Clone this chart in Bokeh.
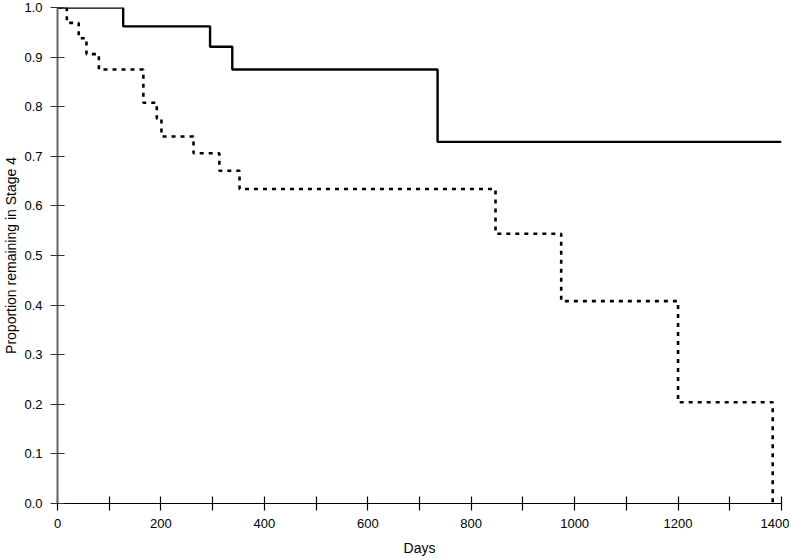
from bokeh.plotting import figure
from bokeh.models import FixedTicker, ColumnDataSource, PrintfTickFormatter
from bokeh.embed import file_html
from bokeh.resources import INLINE

# Kaplan-Meier style step data
solid_days = [0, 127, 295, 338, 735, 1400]
solid_prop = [1.0, 0.962, 0.921, 0.875, 0.729, 0.729]

dotted_days = [0, 18, 41, 56, 80, 166, 192, 201, 263, 313, 352, 847, 974, 1200, 1383]
dotted_prop = [1.0, 0.969, 0.938, 0.906, 0.875, 0.808, 0.776, 0.740, 0.706, 0.671,
               0.634, 0.544, 0.408, 0.204, 0.0]

x_ticks = list(range(0, 1401, 100))
x_labels = {t: (str(t) if t % 200 == 0 else "") for t in x_ticks}
y_ticks = [i / 10 for i in range(0, 11)]

FONT = "Liberation Sans"

p = figure(width=789, height=558, output_backend="svg", toolbar_location=None,
           x_range=(0, 1400), y_range=(0, 1.0),
           min_border_left=57, min_border_right=8, min_border_top=7, min_border_bottom=55)

p.outline_line_color = None
p.grid.grid_line_color = None
p.background_fill_color = "white"
p.border_fill_color = "white"

src_s = ColumnDataSource(dict(x=solid_days, y=solid_prop))
src_d = ColumnDataSource(dict(x=dotted_days, y=dotted_prop))

p.step("x", "y", source=src_d, mode="after", line_color="black", line_width=2.6,
       line_dash="4 5")
p.step("x", "y", source=src_s, mode="after", line_color="black", line_width=2.4)

xa = p.xaxis[0]
xa.ticker = FixedTicker(ticks=x_ticks)
xa.major_label_overrides = x_labels
xa.minor_tick_line_color = None
xa.major_tick_in = 7
xa.major_tick_out = 7
xa.axis_line_color = "black"
xa.axis_line_width = 1.2
xa.major_tick_line_color = "black"
xa.major_tick_line_width = 1.2
xa.major_label_text_font = FONT
xa.major_label_text_font_size = "13px"
xa.major_label_text_color = "black"
xa.major_label_standoff = 8
xa.axis_label = "Days"
xa.axis_label_text_font = FONT
xa.axis_label_text_font_size = "14px"
xa.axis_label_text_font_style = "normal"
xa.axis_label_text_color = "black"
xa.axis_label_standoff = 9

ya = p.yaxis[0]
ya.ticker = FixedTicker(ticks=y_ticks)
ya.formatter = PrintfTickFormatter(format="%.1f")
ya.minor_tick_line_color = None
ya.major_tick_in = 7
ya.major_tick_out = 7
ya.axis_line_color = "#666666"
ya.axis_line_width = 2
ya.major_tick_line_color = "#333333"
ya.major_tick_line_width = 1.2
ya.major_label_text_font = FONT
ya.major_label_text_font_size = "13px"
ya.major_label_text_color = "black"
ya.major_label_standoff = 8
ya.axis_label = "Proportion remaining in Stage 4"
ya.axis_label_text_font = FONT
ya.axis_label_text_font_size = "14px"
ya.axis_label_text_font_style = "normal"
ya.axis_label_text_color = "black"
ya.axis_label_standoff = 2

open("out.html", "w").write(file_html(p, INLINE))
